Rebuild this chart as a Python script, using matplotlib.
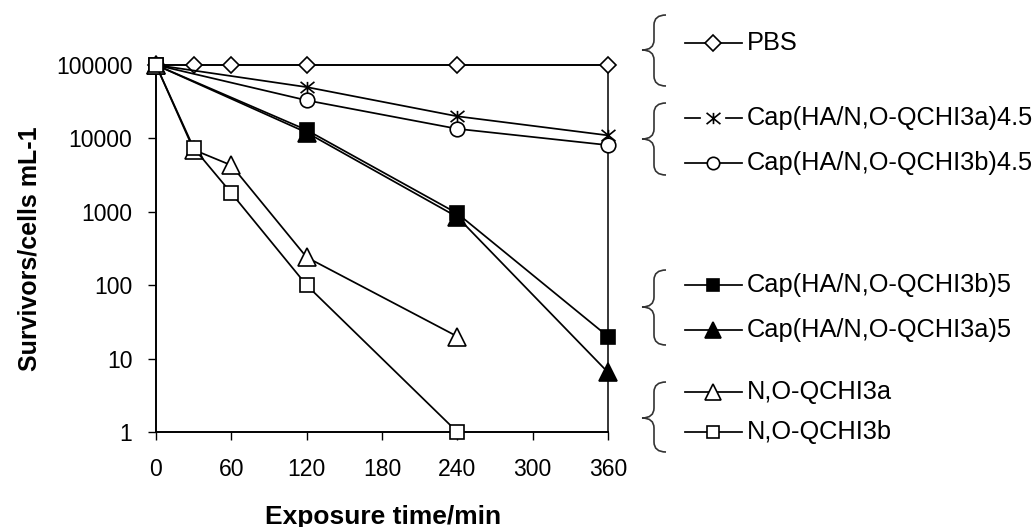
import matplotlib
matplotlib.use("Agg")
import matplotlib.pyplot as plt
from matplotlib.path import Path
from matplotlib.patches import PathPatch
from matplotlib.ticker import FixedLocator, NullLocator

plt.rcParams['font.family'] = ['Liberation Sans', 'DejaVu Sans']

# Survival data (cells per mL) versus exposure time (min)
time_pbs = [0, 30, 60, 120, 240, 360]
pbs = [100000, 100000, 100000, 100000, 100000, 100000]

time_cap = [0, 120, 240, 360]
cap_3a_45 = [100000, 50000, 20000, 11000]
cap_3b_45 = [100000, 33000, 13500, 8100]
cap_3b_5 = [100000, 13000, 950, 20]
cap_3a_5 = [100000, 12000, 850, 6.5]

time_free = [0, 30, 60, 120, 240]
free_3a = [100000, 7000, 4300, 240, 20]
free_3b = [100000, 7400, 1800, 100, 1]

x_ticks = [0, 60, 120, 180, 240, 300, 360]
y_ticks = [1, 10, 100, 1000, 10000, 100000]
y_tick_labels = ["1", "10", "100", "1000", "10000", "100000"]

legend_labels = ["PBS",
                 "Cap(HA/N,O-QCHI3a)4.5",
                 "Cap(HA/N,O-QCHI3b)4.5",
                 "Cap(HA/N,O-QCHI3b)5",
                 "Cap(HA/N,O-QCHI3a)5",
                 "N,O-QCHI3a",
                 "N,O-QCHI3b"]

# Excel-style asterisk: an X crossed by a vertical bar
asterisk = Path([(-0.58, -0.47), (0.58, 0.47), (-0.58, 0.47), (0.58, -0.47),
                 (0, -0.47), (0, 0.47)],
                [Path.MOVETO, Path.LINETO, Path.MOVETO, Path.LINETO,
                 Path.MOVETO, Path.LINETO])

W, H = 1035, 527
fig = plt.figure(figsize=(W / 100, H / 100), dpi=100)
ax = fig.add_axes([156 / W, 1 - 432 / H, (608 - 156) / W, (432 - 65) / H])

lw = 1.25
mew = 1.2
styles = [
    dict(marker='D', ms=8.5, mfc='white'),
    dict(marker=asterisk, ms=10, mfc='none'),
    dict(marker='o', ms=10.5, mfc='white'),
    dict(marker='s', ms=10, mfc='black'),
    dict(marker='^', ms=12.5, mfc='black'),
    dict(marker='^', ms=12.5, mfc='white'),
    dict(marker='s', ms=10, mfc='white'),
]
legend_scale = [0.95, 1.0, 0.85, 0.8, 0.9, 0.9, 0.85]
series = [(time_pbs, pbs), (time_cap, cap_3a_45), (time_cap, cap_3b_45),
          (time_cap, cap_3b_5), (time_cap, cap_3a_5),
          (time_free, free_3a), (time_free, free_3b)]
zorders = [3, 4, 5, 7, 6, 8, 9]

for (t, v), st, z in zip(series, styles, zorders):
    ax.plot(t, v, color='black', lw=lw, mec='black', mew=mew,
            clip_on=False, zorder=z, **st)

ax.set_yscale('log')
ax.set_xlim(0, 360)
ax.set_ylim(1, 100000)
ax.xaxis.set_major_locator(FixedLocator(x_ticks))
ax.yaxis.set_major_locator(FixedLocator(y_ticks))
ax.yaxis.set_minor_locator(NullLocator())
ax.set_yticklabels(y_tick_labels)
ax.tick_params(direction='out', length=6, width=1, color='black',
               labelsize=16.6, labelcolor='black')
ax.tick_params(axis='y', pad=11)
ax.tick_params(axis='x', pad=13)
for s in ax.spines.values():
    s.set_linewidth(1.1)
    s.set_color('black')
ax.spines['left'].set_linewidth(1.4)
ax.spines['bottom'].set_linewidth(1.4)

fig.text(30 / W, 1 - 249 / H, "Survivors/cells mL-1", rotation=90,
         ha='center', va='center', fontsize=18, fontweight='bold')
fig.text(383 / W, 1 - 517 / H, "Exposure time/min",
         ha='center', va='center', fontsize=19, fontweight='bold')

# Grouped legend with curly braces, laid out in pixel space
lg = fig.add_axes([0, 0, 1, 1])
lg.set_xlim(0, W)
lg.set_ylim(H, 0)
lg.axis('off')


def brace(top, bot, tip, x_tip=642, x_mid=654, x_end=666):
    r = 10
    verts = [(x_end, top), (x_mid, top), (x_mid, top + r),
             (x_mid, tip - r), (x_mid, tip), (x_tip, tip),
             (x_mid, tip), (x_mid, tip + r),
             (x_mid, bot - r), (x_mid, bot), (x_end, bot)]
    codes = [Path.MOVETO, Path.CURVE3, Path.CURVE3,
             Path.LINETO, Path.CURVE3, Path.CURVE3,
             Path.CURVE3, Path.CURVE3,
             Path.LINETO, Path.CURVE3, Path.CURVE3]
    lg.add_patch(PathPatch(Path(verts, codes), fc='none', ec='#333333',
                           lw=1.2))


for top, bot, tip in [(15, 86, 50), (103, 175, 139),
                      (270, 345, 307), (382, 452, 418)]:
    brace(top, bot, tip)

entry_y = [43, 118, 163, 285, 330, 392, 432]
x0, x1, xm = 685, 742, 713
for i, (label, st, sc, y) in enumerate(zip(legend_labels, styles,
                                           legend_scale, entry_y)):
    if i == 1:
        lg.plot([x0, 700], [y, y], color='black', lw=lw)
        lg.plot([726, x1], [y, y], color='black', lw=lw)
    else:
        lg.plot([x0, x1], [y, y], color='black', lw=lw)
    kw = dict(st)
    kw['ms'] = kw['ms'] * sc
    lg.plot([xm], [y], color='black', lw=0, mec='black', mew=mew, **kw)
    lg.text(747, y, label, ha='left', va='center', fontsize=18.3)

fig.savefig("out.png", dpi=100)
